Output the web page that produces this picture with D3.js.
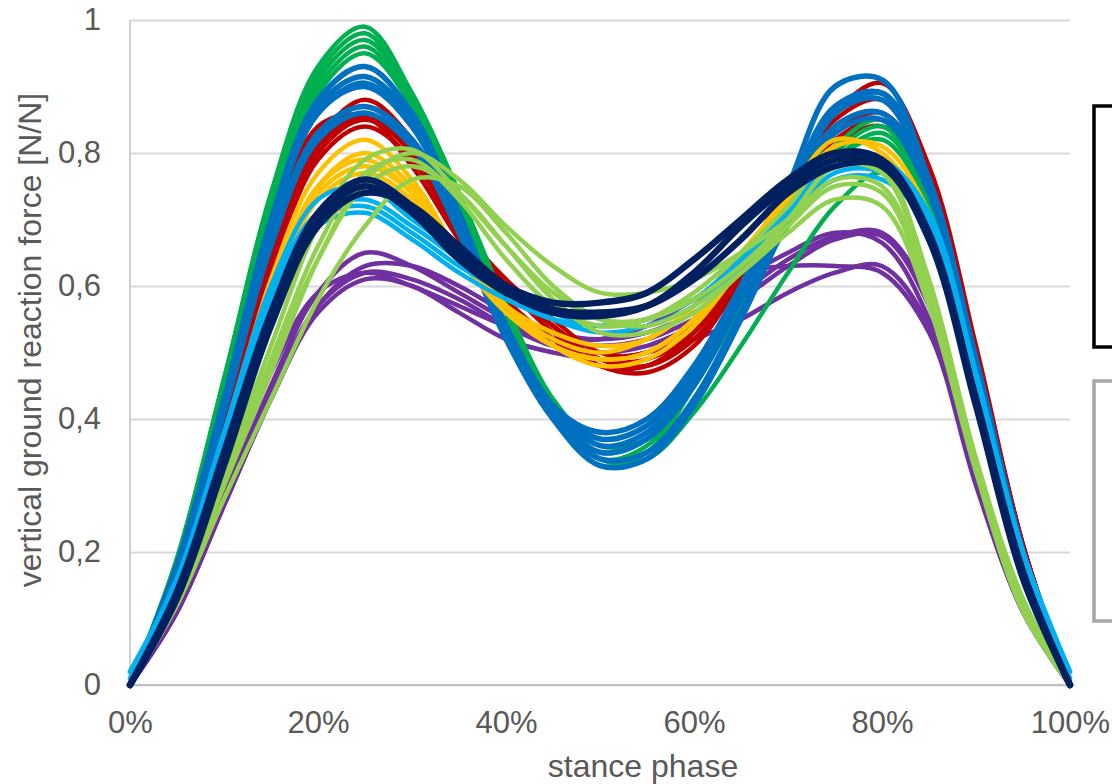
<!DOCTYPE html>
<html>
<head>
<meta charset="utf-8">
<script src="https://cdn.jsdelivr.net/npm/d3@7"></script>
<style>
  html, body { margin: 0; padding: 0; background: #fff; }
  svg { display: block; font-family: "Liberation Sans", Arial, sans-serif; }
</style>
</head>
<body>
<div id="grafiek"></div>
<script>
// stance phase in %, shared by every curve
const phase = [0, 5, 10, 15, 20, 25, 30, 35, 40, 45, 50, 55, 60, 65, 70, 75, 80, 85, 90, 95, 100];
const xTicks = [0, 20, 40, 60, 80, 100];
const yTicks = [0, 0.2, 0.4, 0.6, 0.8, 1];

// curves per colour group
const purpleCurves = [
  [0, 0.12, 0.28, 0.45, 0.59, 0.65, 0.63, 0.59, 0.55, 0.52, 0.51, 0.52, 0.55, 0.59, 0.64, 0.675, 0.68, 0.58, 0.33, 0.12, 0],
  [0, 0.11, 0.27, 0.43, 0.57, 0.63, 0.63, 0.60, 0.56, 0.53, 0.52, 0.53, 0.56, 0.61, 0.65, 0.68, 0.665, 0.55, 0.31, 0.11, 0],
  [0, 0.12, 0.29, 0.47, 0.59, 0.62, 0.60, 0.57, 0.54, 0.52, 0.52, 0.54, 0.58, 0.62, 0.63, 0.63, 0.62, 0.53, 0.30, 0.11, 0],
  [0, 0.11, 0.27, 0.43, 0.56, 0.61, 0.60, 0.56, 0.52, 0.50, 0.49, 0.50, 0.52, 0.55, 0.59, 0.62, 0.63, 0.54, 0.31, 0.11, 0],
  [0, 0.11, 0.28, 0.44, 0.57, 0.62, 0.61, 0.58, 0.54, 0.51, 0.50, 0.51, 0.54, 0.58, 0.63, 0.67, 0.675, 0.57, 0.32, 0.12, 0]
];
const redCurves = [
  [0, 0.17, 0.40, 0.64, 0.82, 0.88, 0.82, 0.69, 0.60, 0.53, 0.48, 0.47, 0.51, 0.61, 0.74, 0.86, 0.905, 0.78, 0.51, 0.21, 0],
  [0, 0.18, 0.42, 0.67, 0.84, 0.855, 0.78, 0.67, 0.58, 0.52, 0.48, 0.48, 0.53, 0.63, 0.75, 0.85, 0.88, 0.77, 0.50, 0.21, 0],
  [0, 0.17, 0.40, 0.64, 0.81, 0.855, 0.80, 0.68, 0.60, 0.54, 0.49, 0.49, 0.53, 0.62, 0.73, 0.83, 0.86, 0.76, 0.50, 0.21, 0],
  [0, 0.16, 0.39, 0.63, 0.80, 0.85, 0.80, 0.69, 0.61, 0.55, 0.50, 0.50, 0.55, 0.64, 0.74, 0.82, 0.85, 0.76, 0.50, 0.21, 0],
  [0, 0.16, 0.38, 0.62, 0.79, 0.84, 0.79, 0.68, 0.60, 0.54, 0.49, 0.48, 0.52, 0.61, 0.72, 0.81, 0.84, 0.75, 0.49, 0.20, 0]
];
const greenCurves = [
  [0, 0.19, 0.46, 0.74, 0.93, 0.99, 0.89, 0.74, 0.57, 0.41, 0.33, 0.35, 0.45, 0.58, 0.71, 0.81, 0.85, 0.74, 0.48, 0.19, 0],
  [0, 0.19, 0.46, 0.73, 0.92, 0.98, 0.88, 0.73, 0.56, 0.41, 0.34, 0.36, 0.45, 0.58, 0.70, 0.80, 0.84, 0.73, 0.47, 0.19, 0],
  [0, 0.18, 0.45, 0.72, 0.91, 0.97, 0.88, 0.73, 0.57, 0.42, 0.35, 0.37, 0.46, 0.58, 0.70, 0.79, 0.82, 0.72, 0.47, 0.18, 0],
  [0, 0.18, 0.45, 0.72, 0.90, 0.96, 0.87, 0.72, 0.56, 0.42, 0.34, 0.34, 0.41, 0.51, 0.62, 0.72, 0.77, 0.69, 0.45, 0.18, 0],
  [0, 0.18, 0.44, 0.71, 0.89, 0.95, 0.87, 0.72, 0.57, 0.43, 0.36, 0.37, 0.45, 0.57, 0.69, 0.79, 0.83, 0.73, 0.47, 0.18, 0]
];
const blueCurves = [
  [0, 0.18, 0.43, 0.70, 0.88, 0.93, 0.86, 0.71, 0.54, 0.42, 0.37, 0.39, 0.47, 0.60, 0.75, 0.90, 0.91, 0.76, 0.49, 0.20, 0],
  [0, 0.18, 0.43, 0.69, 0.87, 0.915, 0.85, 0.70, 0.54, 0.42, 0.36, 0.38, 0.46, 0.59, 0.74, 0.87, 0.89, 0.76, 0.49, 0.20, 0],
  [0, 0.18, 0.42, 0.69, 0.86, 0.905, 0.84, 0.70, 0.53, 0.41, 0.35, 0.37, 0.45, 0.58, 0.72, 0.86, 0.88, 0.75, 0.48, 0.19, 0],
  [0, 0.17, 0.41, 0.67, 0.83, 0.87, 0.82, 0.69, 0.53, 0.41, 0.34, 0.35, 0.43, 0.56, 0.71, 0.84, 0.86, 0.75, 0.48, 0.19, 0],
  [0, 0.17, 0.41, 0.66, 0.82, 0.86, 0.81, 0.68, 0.52, 0.40, 0.33, 0.34, 0.42, 0.55, 0.70, 0.83, 0.85, 0.74, 0.48, 0.19, 0],
  [0, 0.18, 0.42, 0.69, 0.86, 0.90, 0.84, 0.70, 0.54, 0.42, 0.38, 0.40, 0.48, 0.60, 0.73, 0.86, 0.89, 0.76, 0.49, 0.20, 0]
];
const yellowCurves = [
  [0, 0.15, 0.37, 0.61, 0.77, 0.82, 0.76, 0.65, 0.57, 0.51, 0.49, 0.50, 0.55, 0.64, 0.74, 0.82, 0.80, 0.70, 0.46, 0.19, 0],
  [0, 0.15, 0.36, 0.59, 0.75, 0.80, 0.75, 0.65, 0.57, 0.51, 0.48, 0.49, 0.54, 0.63, 0.73, 0.81, 0.81, 0.71, 0.46, 0.19, 0],
  [0, 0.15, 0.36, 0.59, 0.75, 0.79, 0.74, 0.64, 0.56, 0.51, 0.49, 0.50, 0.55, 0.64, 0.73, 0.80, 0.79, 0.69, 0.45, 0.18, 0],
  [0, 0.14, 0.35, 0.58, 0.74, 0.78, 0.74, 0.65, 0.57, 0.52, 0.50, 0.52, 0.57, 0.65, 0.73, 0.79, 0.78, 0.69, 0.45, 0.18, 0],
  [0, 0.14, 0.35, 0.57, 0.73, 0.77, 0.73, 0.64, 0.57, 0.53, 0.51, 0.52, 0.57, 0.65, 0.72, 0.78, 0.77, 0.68, 0.44, 0.18, 0]
];
const lightBlueCurves = [
  [0.02, 0.16, 0.38, 0.60, 0.73, 0.75, 0.70, 0.65, 0.60, 0.56, 0.54, 0.55, 0.58, 0.64, 0.71, 0.79, 0.79, 0.71, 0.47, 0.20, 0.02],
  [0.02, 0.16, 0.37, 0.59, 0.71, 0.73, 0.69, 0.64, 0.59, 0.56, 0.54, 0.55, 0.58, 0.64, 0.71, 0.78, 0.78, 0.70, 0.46, 0.20, 0.02],
  [0.01, 0.15, 0.36, 0.58, 0.70, 0.72, 0.68, 0.63, 0.59, 0.55, 0.53, 0.54, 0.57, 0.63, 0.70, 0.77, 0.77, 0.69, 0.46, 0.19, 0.01],
  [0.01, 0.15, 0.36, 0.57, 0.69, 0.71, 0.67, 0.62, 0.58, 0.55, 0.54, 0.55, 0.58, 0.63, 0.70, 0.76, 0.76, 0.69, 0.45, 0.19, 0.01]
];
const lightGreenCurves = [
  [0, 0.13, 0.30, 0.47, 0.64, 0.76, 0.80, 0.76, 0.69, 0.63, 0.59, 0.59, 0.61, 0.65, 0.70, 0.76, 0.75, 0.59, 0.33, 0.12, 0],
  [0, 0.14, 0.32, 0.51, 0.69, 0.79, 0.805, 0.74, 0.66, 0.59, 0.55, 0.55, 0.58, 0.63, 0.70, 0.78, 0.77, 0.60, 0.34, 0.12, 0],
  [0, 0.13, 0.30, 0.48, 0.64, 0.75, 0.78, 0.74, 0.66, 0.58, 0.53, 0.53, 0.56, 0.62, 0.69, 0.75, 0.74, 0.58, 0.33, 0.12, 0],
  [0, 0.12, 0.28, 0.43, 0.58, 0.69, 0.76, 0.75, 0.68, 0.60, 0.55, 0.54, 0.57, 0.62, 0.68, 0.73, 0.72, 0.57, 0.32, 0.11, 0],
  [0, 0.13, 0.31, 0.49, 0.66, 0.77, 0.79, 0.73, 0.64, 0.57, 0.54, 0.55, 0.59, 0.65, 0.72, 0.80, 0.78, 0.61, 0.34, 0.13, 0]
];
const navyCurves = [
  [0, 0.14, 0.35, 0.56, 0.71, 0.76, 0.72, 0.65, 0.60, 0.575, 0.575, 0.59, 0.64, 0.70, 0.76, 0.80, 0.79, 0.68, 0.43, 0.17, 0],
  [0, 0.13, 0.33, 0.54, 0.69, 0.74, 0.72, 0.66, 0.60, 0.565, 0.56, 0.57, 0.61, 0.67, 0.74, 0.78, 0.78, 0.67, 0.42, 0.16, 0],
  [0, 0.14, 0.34, 0.55, 0.70, 0.75, 0.71, 0.64, 0.59, 0.56, 0.555, 0.57, 0.62, 0.69, 0.75, 0.79, 0.785, 0.675, 0.43, 0.17, 0]
];

// drawing order (bottom to top), colour, line width
const groups = [
  { curves: purpleCurves, color: "#7030A0", width: 4.5 },
  { curves: redCurves, color: "#C00000", width: 4.5 },
  { curves: greenCurves, color: "#00B050", width: 4.5 },
  { curves: blueCurves, color: "#0070C0", width: 5.5 },
  { curves: yellowCurves, color: "#FFC000", width: 4.5 },
  { curves: lightBlueCurves, color: "#00B0F0", width: 4.5 },
  { curves: lightGreenCurves, color: "#92D050", width: 4.5 },
  { curves: navyCurves, color: "#002060", width: 6.5 }
];

const W = 1112, H = 784;
const margin = { top: 20, right: 42, bottom: 99, left: 130 };

const svg = d3.select("#grafiek")
  .append("svg")
  .attr("width", W)
  .attr("height", H);

const x = d3.scaleLinear().domain([0, 100]).range([margin.left, W - margin.right]);
const y = d3.scaleLinear().domain([0, 1]).range([H - margin.bottom, margin.top]);

const commaFmt = d3.formatLocale({ decimal: ",", thousands: ".", grouping: [3], currency: ["", "€"] }).format("~g");

// horizontal gridlines
svg.append("g")
  .attr("transform", `translate(${margin.left},0)`)
  .call(d3.axisLeft(y).tickValues(yTicks).tickSize(-(x(100) - x(0))).tickFormat(""))
  .call(g => g.select(".domain").remove())
  .call(g => g.selectAll("line").attr("stroke", "#D9D9D9").attr("stroke-width", 2));

// axis lines
svg.append("line")
  .attr("x1", x(0)).attr("x2", x(0))
  .attr("y1", y(1)).attr("y2", y(0))
  .attr("stroke", "#D0D0D0").attr("stroke-width", 2);
svg.append("line")
  .attr("x1", x(0)).attr("x2", x(100))
  .attr("y1", y(0)).attr("y2", y(0))
  .attr("stroke", "#BFBFBF").attr("stroke-width", 2);

// curves
const line = d3.line()
  .x((d, i) => x(phase[i]))
  .y(d => y(d))
  .curve(d3.curveCatmullRom.alpha(0.5));

groups.forEach(grp => {
  svg.append("g")
    .selectAll("path")
    .data(grp.curves)
    .enter()
    .append("path")
      .attr("d", line)
      .attr("fill", "none")
      .attr("stroke", grp.color)
      .attr("stroke-width", grp.width)
      .attr("stroke-linejoin", "round")
      .attr("stroke-linecap", "round");
});

// tick labels
const xAxis = svg.append("g")
  .attr("transform", `translate(0,${y(0)})`)
  .call(d3.axisBottom(x).tickValues(xTicks).tickSize(0).tickPadding(26).tickFormat(d => d + "%"));
xAxis.select(".domain").remove();
xAxis.selectAll("text").attr("font-size", 31).attr("fill", "#595959").attr("font-family", "Liberation Sans, Arial, sans-serif");

const yAxis = svg.append("g")
  .attr("transform", `translate(${margin.left},0)`)
  .call(d3.axisLeft(y).tickValues(yTicks).tickSize(0).tickPadding(29).tickFormat(commaFmt));
yAxis.select(".domain").remove();
yAxis.selectAll("text").attr("font-size", 31).attr("fill", "#595959").attr("font-family", "Liberation Sans, Arial, sans-serif");

// axis titles
svg.append("text")
  .attr("x", 643).attr("y", 777)
  .attr("text-anchor", "middle")
  .attr("font-size", 32).attr("fill", "#595959")
  .text("stance phase");

svg.append("text")
  .attr("transform", "translate(41,340) rotate(-90)")
  .attr("text-anchor", "middle")
  .attr("font-size", 32).attr("fill", "#595959")
  .text("vertical ground reaction force [N/N]");

// legend frames, cut off at the right edge
svg.append("rect")
  .attr("x", 1094).attr("y", 106).attr("width", 60).attr("height", 241)
  .attr("fill", "none").attr("stroke", "#000").attr("stroke-width", 3.5);
svg.append("rect")
  .attr("x", 1094).attr("y", 381).attr("width", 60).attr("height", 240)
  .attr("fill", "none").attr("stroke", "#A6A6A6").attr("stroke-width", 3.5);
</script>
</body>
</html>
